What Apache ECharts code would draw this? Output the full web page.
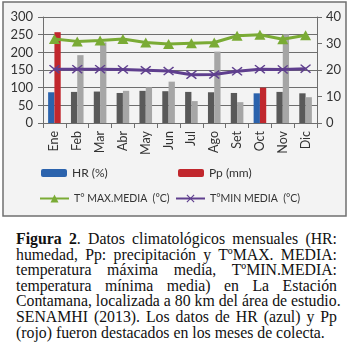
<!DOCTYPE html>
<html>
<head>
<meta charset="utf-8">
<script src="https://cdn.jsdelivr.net/npm/echarts@6/dist/echarts.min.js"></script>
<style>
  html, body { margin: 0; padding: 0; background: #fff; }
  #wrap { position: relative; width: 350px; height: 349px; }
  #chart { position: absolute; left: 0; top: 0; width: 350px; height: 222px; }
  #caption {
    position: absolute; left: 16px; top: 231px; width: 321px;
    font-family: 'Liberation Serif', serif; font-size: 15.8px; line-height: 15.6px; color: #111;
  }
  #caption div { text-align: justify; text-align-last: justify; white-space: nowrap; }
  #caption div.last { text-align-last: left; }
</style>
</head>
<body>
<div id="wrap">
  <div id="chart"></div>
  <div id="caption">
    <div><b>Figura 2</b>. Datos climatológicos mensuales (HR:</div>
    <div>humedad, Pp: precipitación y TºMAX. MEDIA:</div>
    <div>temperatura máxima media, TºMIN.MEDIA:</div>
    <div>temperatura mínima media) en La Estación</div>
    <div>Contamana, localizada a 80 km del área de estudio.</div>
    <div>SENAMHI (2013). Los datos de HR (azul) y Pp</div>
    <div class="last">(rojo) fueron destacados en los meses de colecta.</div>
  </div>
</div>
<script>
// datos
let months = ['Ene', 'Feb', 'Mar', 'Abr', 'May', 'Jun', 'Jul', 'Ago', 'Set', 'Oct', 'Nov', 'Dic']
let hr = [87, 88, 89, 85, 91, 90, 88, 87, 85, 84, 88, 84]
let pp = [257, 192, 228, 91, 101, 117, 62, 202, 59, 100, 251, 73]
let tmax = [31.7, 30.8, 31.1, 31.7, 30.4, 29.8, 30.1, 30.4, 32.9, 33.3, 31.6, 33.1]
let tmin = [20.3, 20.3, 20.3, 20.2, 19.9, 19.6, 18.2, 18.3, 19.5, 20.3, 20.2, 20.5]
let highlighted = ['Ene', 'Oct']
let leftTicks = [0, 300, 50]
let rightTicks = [0, 40, 10]

let names = ['HR (%)', 'Pp (mm)', 'T° MAX.MEDIA  (°C)', 'T°MIN MEDIA  (°C)']
let font = 'Lato'
let gridColor = '#6e6e6e'
let crossPath = 'path://M0,1L1,0L5,4L9,0L10,1L6,5L10,9L9,10L5,6L1,10L0,9L4,5Z'

function barData (values, grey) {
  return values.map(function (v, i) {
    if (highlighted.indexOf(months[i]) >= 0) return v
    return { value: v, itemStyle: { color: grey } }
  })
}

function legendAt (name, left, top, w, h, size) {
  return {
    data: [name], left: left, top: top, itemWidth: w, itemHeight: h,
    padding: 0, itemGap: 0, selectedMode: false,
    textStyle: { fontFamily: font, fontSize: size, color: '#333' }
  }
}

let chart = echarts.init(document.getElementById('chart'))
let option = {
  animation: false,
  graphic: [{
    type: 'rect', z: -10, silent: true,
    shape: { x: 3, y: 2, width: 343, height: 214 },
    style: { fill: '#f3f3f3', stroke: '#707070', lineWidth: 1.5 }
  }],
  legend: [
    legendAt(names[0], 41, 167, 26, 8, 12),
    legendAt(names[1], 178, 167, 26, 8, 12),
    legendAt(names[2], 39, 193, 29, 10, 10.5),
    legendAt(names[3], 175, 193, 29, 10, 10.5)
  ],
  grid: { left: 43, right: 33, top: 17, height: 106, outerBoundsMode: 'none' },
  xAxis: {
    type: 'category',
    data: months,
    axisLine: { lineStyle: { color: gridColor } },
    axisTick: { show: true, length: 5, lineStyle: { color: gridColor } },
    axisLabel: { rotate: 90, margin: 8, fontFamily: font, fontSize: 12.5, color: '#333' }
  },
  yAxis: [{
    type: 'value',
    min: leftTicks[0], max: leftTicks[1], interval: leftTicks[2],
    axisLine: { show: true, lineStyle: { color: gridColor } },
    axisTick: { show: true, length: 5, lineStyle: { color: gridColor } },
    splitLine: { lineStyle: { color: gridColor } },
    axisLabel: { margin: 10, fontFamily: font, fontSize: 13, color: '#333' }
  }, {
    type: 'value',
    min: rightTicks[0], max: rightTicks[1], interval: rightTicks[2],
    axisLine: { show: true, lineStyle: { color: gridColor } },
    axisTick: { show: true, length: 5, lineStyle: { color: gridColor } },
    splitLine: { show: false },
    axisLabel: { margin: 9, fontFamily: font, fontSize: 13, color: '#333' }
  }],
  series: [
    {
      name: names[0], type: 'bar', data: barData(hr, '#595959'),
      itemStyle: { color: '#2b63ad' },
      barWidth: 6.3, barGap: '0%'
    },
    {
      name: names[1], type: 'bar', data: barData(pp, '#a6a6a6'),
      itemStyle: { color: '#c1272d' },
      barWidth: 6.3, barGap: '0%'
    },
    {
      name: names[2], type: 'line', yAxisIndex: 1, data: tmax,
      symbol: 'triangle', symbolSize: [11, 10],
      lineStyle: { color: '#7aab35', width: 3 },
      itemStyle: { color: '#7aab35' }
    },
    {
      name: names[3], type: 'line', yAxisIndex: 1, data: tmin,
      symbol: crossPath, symbolSize: [11, 9],
      lineStyle: { color: '#5f3f8e', width: 3 },
      itemStyle: { color: '#5f3f8e' }
    }
  ]
}
chart.setOption(option)
</script>
</body>
</html>
